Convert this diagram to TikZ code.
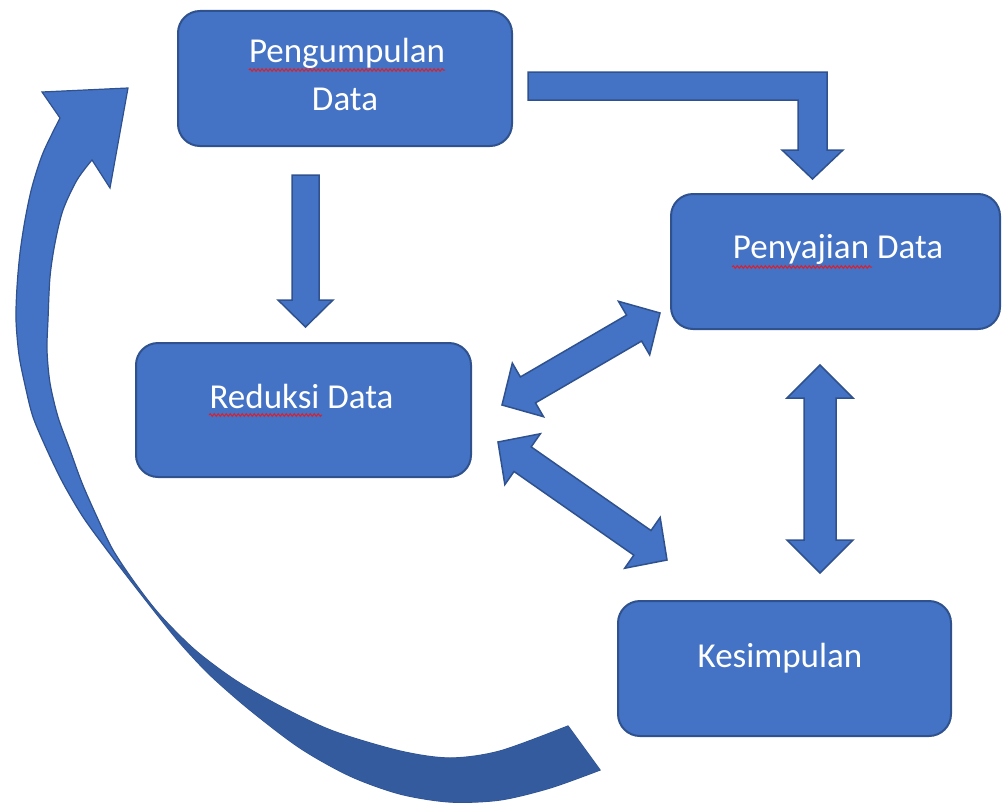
\documentclass[tikz,border=0pt]{standalone}
\usepackage{fontspec}
\setmainfont{Carlito}
\usetikzlibrary{calc,decorations.pathmorphing}
\definecolor{boxfill}{RGB}{68,114,196}
\definecolor{boxedge}{RGB}{47,82,143}
\definecolor{backfill}{RGB}{52,91,158}
\definecolor{squig}{RGB}{222,30,40}
\tikzset{
 box/.style={rectangle, rounded corners=22pt, fill=boxfill, draw=boxedge, line width=2pt, inner sep=0pt},
 lbl/.style={text=white, font=\fontsize{35}{42}\selectfont, inner sep=0pt, anchor=base},
 blockarrow/.style={fill=boxfill, draw=boxedge, line width=1.5pt, line join=miter},
 spell/.style={draw=squig, line width=1pt, decorate, decoration={snake, amplitude=1.3pt, segment length=4pt}},
}
\newcommand\twoheaded[5]{%
 \path[blockarrow] (#1) -- ($(#1)!#3!(#2)!#4!90:(#2)$) -- ($(#1)!#3!(#2)!#5!90:(#2)$)
  -- ($(#2)!#3!(#1)!#5!-90:(#1)$) -- ($(#2)!#3!(#1)!#4!-90:(#1)$) -- (#2)
  -- ($(#2)!#3!(#1)!#4!90:(#1)$) -- ($(#2)!#3!(#1)!#5!90:(#1)$)
  -- ($(#1)!#3!(#2)!#5!-90:(#2)$) -- ($(#1)!#3!(#2)!#4!-90:(#2)$) -- cycle;}
\newcommand\loopshape[1]{%
 \path[#1] (60,118) -- (42,92) -- (128,88) -- (110,188) -- (92,160)
  -- plot[smooth] coordinates {(92,160) (77,180) (63,210) (55,243) (50,277) (48,320) (47,350) (50,383) (58,417) (70,450) (82,483) (97,517) (113,550) (135,583) (160,615) (195,650) (235,680) (280,706) (333,731) (400,751) (450,758) (500,751) (568,726)}
  -- plot[smooth] coordinates {(600,770) (550,788) (500,800) (450,802) (400,794) (350,776) (300,748) (250,710) (210,675) (180,643) (155,612) (130,580) (107,550) (83,517) (63,483) (47,450) (33,417) (25,385) (19,355) (16,320) (17,287) (20,253) (25,220) (32,187) (43,153) (60,118)}
  -- cycle;}
\begin{document}
\begin{tikzpicture}[x=1pt,y=-1pt]
\useasboundingbox (0,0) rectangle (1003,808);
% boxes
\node[box, minimum width=334pt, minimum height=135pt] (pd) at (345,78.5) {};
\node[box, minimum width=329pt, minimum height=135pt] (py) at (835.5,261.5) {};
\node[box, minimum width=335pt, minimum height=134pt] (rd) at (303.5,410) {};
\node[box, minimum width=333pt, minimum height=135pt] (ks) at (784.5,668.5) {};
% labels
\node[lbl] (t1a) at (347,63) {Pengumpulan};
\node[lbl] (t1b) at (345,110) {Data};
\node[lbl] (t2) at (838,258) {Penyajian Data};
\node[lbl] (t3) at (301.5,408) {Reduksi Data};
\node[lbl] (t4) at (780,667) {Kesimpulan};
% spell-check underlines
\path[spell] ($(t1a.base west)+(0,7)$) -- ($(t1a.base east)+(0,7)$);
\coordinate (s2a) at (732,267); \coordinate (s2b) at (872,267);
\path[spell] (s2a) -- (s2b);
\coordinate (s3a) at (209,415); \coordinate (s3b) at (322,415);
\path[spell] (s3a) -- (s3b);
% bent arrow Pengumpulan -> Penyajian
\path[blockarrow] (528,72) -- (827,72) -- (827,150) -- (843,150) -- (812.5,179) -- (782,150) -- (798,150) -- (798,100) -- (528,100) -- cycle;
% down arrow Pengumpulan -> Reduksi
\path[blockarrow] (292,175) -- (319,175) -- (319,300) -- (333,300) -- (305.5,327) -- (278,300) -- (292,300) -- cycle;
% double arrows
\coordinate (d1a) at (502,405); \coordinate (d1b) at (660,313);
\twoheaded{d1a}{d1b}{30pt}{31pt}{15pt}
\coordinate (d2a) at (498,442); \coordinate (d2b) at (667,560);
\twoheaded{d2a}{d2b}{30pt}{31pt}{15pt}
\coordinate (d3a) at (820,365); \coordinate (d3b) at (820,573);
\twoheaded{d3a}{d3b}{33pt}{33pt}{16pt}
% curved return arrow
\loopshape{fill=boxfill, draw=boxedge, line width=1.2pt, line join=miter}
\begin{scope}
\clip (0,565) rectangle (1003,808);
\loopshape{fill=backfill}
\end{scope}
\end{tikzpicture}
\end{document}
